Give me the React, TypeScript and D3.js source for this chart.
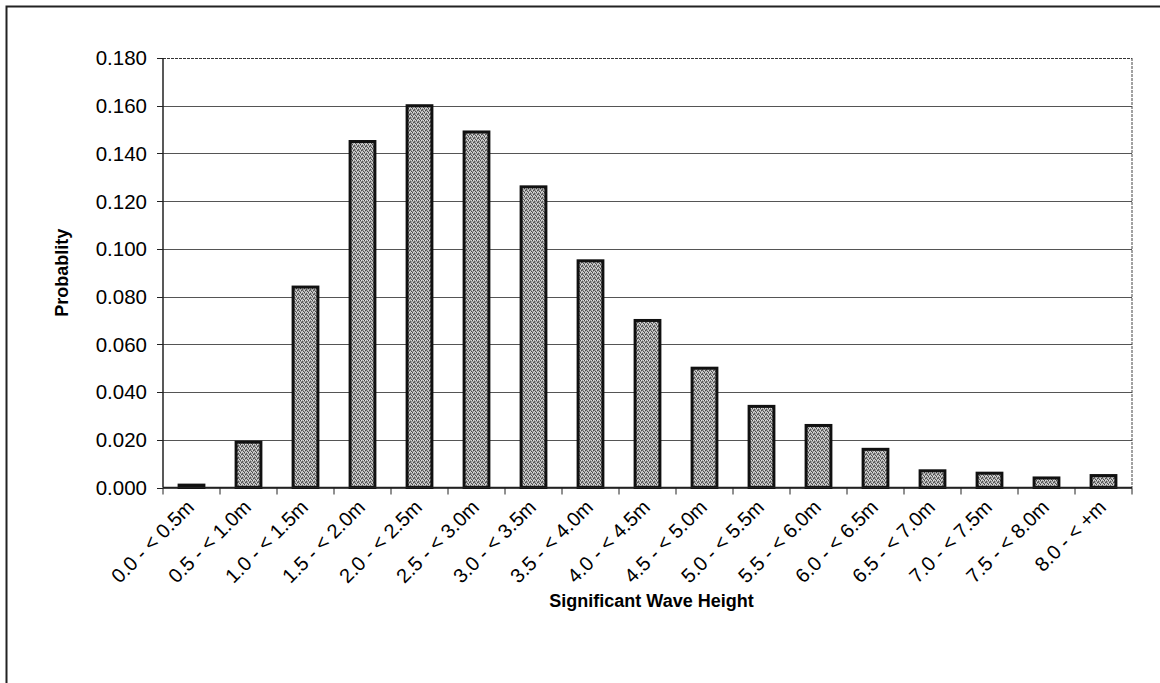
import React from "react";
import * as d3 from "d3";

// Wave height bins and their probability of occurrence
const categories: string[] = [
  "0.0 - < 0.5m", "0.5 - < 1.0m", "1.0 - < 1.5m", "1.5 - < 2.0m", "2.0 - < 2.5m",
  "2.5 - < 3.0m", "3.0 - < 3.5m", "3.5 - < 4.0m", "4.0 - < 4.5m", "4.5 - < 5.0m",
  "5.0 - < 5.5m", "5.5 - < 6.0m", "6.0 - < 6.5m", "6.5 - < 7.0m", "7.0 - < 7.5m",
  "7.5 - < 8.0m", "8.0 - < +m",
];
const probabilities: number[] = [
  0.001, 0.019, 0.084, 0.145, 0.160, 0.149, 0.126, 0.095, 0.070, 0.050,
  0.034, 0.026, 0.016, 0.007, 0.006, 0.004, 0.005,
];
const yTicks: number[] = [0, 0.02, 0.04, 0.06, 0.08, 0.1, 0.12, 0.14, 0.16, 0.18];

const W = 1160;
const H = 683;
const plot = { left: 163, right: 1132, top: 58, bottom: 487.5 };
const FONT = "'Liberation Sans', Arial, sans-serif";

export default function App() {
  const x = d3
    .scaleBand<string>()
    .domain(categories)
    .range([plot.left, plot.right])
    .paddingInner(0.565)
    .paddingOuter(0.2825);
  const band = d3.scaleBand<string>().domain(categories).range([plot.left, plot.right]);
  const y = d3.scaleLinear().domain([0, 0.18]).range([plot.bottom, plot.top]);
  const fmt = d3.format(".3f");

  return (
    <svg
      width={W}
      height={H}
      style={{ position: "absolute", left: 0, top: 0, background: "#fff" }}
      fontFamily={FONT}
    >
      <defs>
        <pattern id="stipple" width="4" height="4" patternUnits="userSpaceOnUse">
          <rect width="4" height="4" fill="#a2a2a2" />
          <rect x="0" y="0" width="1" height="1" fill="#444" />
          <rect x="2" y="1" width="1" height="1" fill="#555" />
          <rect x="1" y="2" width="1" height="1" fill="#4a4a4a" />
          <rect x="3" y="3" width="1" height="1" fill="#505050" />
          <rect x="2" y="2" width="1" height="1" fill="#707070" />
          <rect x="3" y="0" width="1" height="1" fill="#d8d8d8" />
          <rect x="1" y="0" width="1" height="1" fill="#e0e0e0" />
          <rect x="0" y="2" width="1" height="1" fill="#dcdcdc" />
          <rect x="2" y="3" width="1" height="1" fill="#d4d4d4" />
        </pattern>
      </defs>

      {/* outer chart frame */}
      <rect x={6.5} y={6.5} width={W + 20} height={H + 20} fill="none" stroke="#222" strokeWidth={2} />

      {/* horizontal gridlines */}
      {yTicks.map((t) => (
        <line
          key={"g" + t}
          x1={plot.left}
          x2={plot.right}
          y1={Math.round(y(t)) + 0.5}
          y2={Math.round(y(t)) + 0.5}
          stroke={t === 0.18 ? "#333" : "#555"}
          strokeWidth={1}
          strokeDasharray={t === 0.18 ? "3 1" : undefined}
        />
      ))}
      {/* right border of plot area */}
      <line x1={plot.right} x2={plot.right} y1={plot.top} y2={plot.bottom} stroke="#444" strokeWidth={1} strokeDasharray="3 1" />

      {/* y axis ticks and labels */}
      {yTicks.map((t) => (
        <g key={"t" + t}>
          <line x1={plot.left - 6} x2={plot.left} y1={Math.round(y(t)) + 0.5} y2={Math.round(y(t)) + 0.5} stroke="#222" />
          <text x={147} y={y(t)} dy="0.36em" textAnchor="end" fontSize={20.5} fill="#000">
            {fmt(t)}
          </text>
        </g>
      ))}

      {/* bars */}
      {categories.map((c, i) => (
        <rect
          key={c}
          x={x(c)!}
          y={y(probabilities[i])}
          width={x.bandwidth()}
          height={plot.bottom - y(probabilities[i])}
          fill="url(#stipple)"
          stroke="#111"
          strokeWidth={3}
        />
      ))}

      {/* axes */}
      <line x1={plot.left} x2={plot.left} y1={plot.top} y2={plot.bottom} stroke="#222" strokeWidth={1.5} />
      <line x1={plot.left} x2={plot.right} y1={plot.bottom} y2={plot.bottom} stroke="#222" strokeWidth={1.5} />
      {categories.map((c) => (
        <line
          key={"xt" + c}
          x1={band(c)!}
          x2={band(c)!}
          y1={plot.bottom}
          y2={plot.bottom + 7}
          stroke="#222"
        />
      ))}
      <line x1={plot.right} x2={plot.right} y1={plot.bottom} y2={plot.bottom + 7} stroke="#222" />

      {/* rotated category labels */}
      {categories.map((c) => {
        const cx = band(c)! + band.bandwidth() / 2;
        return (
          <text
            key={"xl" + c}
            transform={`translate(${cx - 6},${plot.bottom + 11}) rotate(-45)`}
            textAnchor="end"
            dy="0.7em"
            fontSize={20}
            fill="#000"
          >
            {c}
          </text>
        );
      })}

      {/* axis titles */}
      <text x={(plot.left + plot.right) / 2 + 4} y={607} textAnchor="middle" fontSize={18} fontWeight="bold" fill="#000">
        Significant Wave Height
      </text>
      <text
        transform={`translate(68,${(plot.top + plot.bottom) / 2}) rotate(-90)`}
        textAnchor="middle"
        fontSize={18}
        fontWeight="bold"
        fill="#000"
      >
        Probablity
      </text>
    </svg>
  );
}
